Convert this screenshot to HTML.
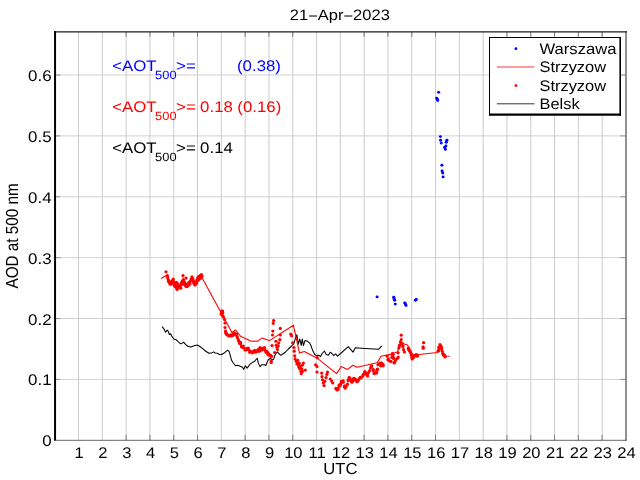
<!DOCTYPE html>
<html lang="en"><head><meta charset="utf-8"><title>21-Apr-2023 AOD at 500 nm</title>
<style>html,body{margin:0;padding:0;background:#fff;overflow:hidden}svg{display:block}text{text-rendering:geometricPrecision;font-family:'Liberation Sans', sans-serif}</style></head><body>
<svg width="640" height="480" viewBox="0 0 640 480">
<rect width="640" height="480" fill="#fff"/>
<g id="grid"><line x1="78.55" y1="32" x2="78.55" y2="440" stroke="#cbcbcb" stroke-width="1"/><line x1="102.35" y1="32" x2="102.35" y2="440" stroke="#cbcbcb" stroke-width="1"/><line x1="126.15" y1="32" x2="126.15" y2="440" stroke="#cbcbcb" stroke-width="1"/><line x1="149.95" y1="32" x2="149.95" y2="440" stroke="#cbcbcb" stroke-width="1"/><line x1="173.75" y1="32" x2="173.75" y2="440" stroke="#cbcbcb" stroke-width="1"/><line x1="197.55" y1="32" x2="197.55" y2="440" stroke="#cbcbcb" stroke-width="1"/><line x1="221.35" y1="32" x2="221.35" y2="440" stroke="#cbcbcb" stroke-width="1"/><line x1="245.15" y1="32" x2="245.15" y2="440" stroke="#cbcbcb" stroke-width="1"/><line x1="268.95" y1="32" x2="268.95" y2="440" stroke="#cbcbcb" stroke-width="1"/><line x1="292.75" y1="32" x2="292.75" y2="440" stroke="#cbcbcb" stroke-width="1"/><line x1="316.55" y1="32" x2="316.55" y2="440" stroke="#cbcbcb" stroke-width="1"/><line x1="340.35" y1="32" x2="340.35" y2="440" stroke="#cbcbcb" stroke-width="1"/><line x1="364.15" y1="32" x2="364.15" y2="440" stroke="#cbcbcb" stroke-width="1"/><line x1="387.95" y1="32" x2="387.95" y2="440" stroke="#cbcbcb" stroke-width="1"/><line x1="411.75" y1="32" x2="411.75" y2="440" stroke="#cbcbcb" stroke-width="1"/><line x1="435.55" y1="32" x2="435.55" y2="440" stroke="#cbcbcb" stroke-width="1"/><line x1="459.35" y1="32" x2="459.35" y2="440" stroke="#cbcbcb" stroke-width="1"/><line x1="483.15" y1="32" x2="483.15" y2="440" stroke="#cbcbcb" stroke-width="1"/><line x1="506.95" y1="32" x2="506.95" y2="440" stroke="#cbcbcb" stroke-width="1"/><line x1="530.75" y1="32" x2="530.75" y2="440" stroke="#cbcbcb" stroke-width="1"/><line x1="554.55" y1="32" x2="554.55" y2="440" stroke="#cbcbcb" stroke-width="1"/><line x1="578.35" y1="32" x2="578.35" y2="440" stroke="#cbcbcb" stroke-width="1"/><line x1="602.15" y1="32" x2="602.15" y2="440" stroke="#cbcbcb" stroke-width="1"/><line x1="55" y1="379.42" x2="626" y2="379.42" stroke="#cfcfcf" stroke-width="0.95"/><line x1="55" y1="318.54" x2="626" y2="318.54" stroke="#cfcfcf" stroke-width="0.95"/><line x1="55" y1="257.66" x2="626" y2="257.66" stroke="#cfcfcf" stroke-width="0.95"/><line x1="55" y1="196.78" x2="626" y2="196.78" stroke="#cfcfcf" stroke-width="0.95"/><line x1="55" y1="135.90" x2="626" y2="135.90" stroke="#cfcfcf" stroke-width="0.95"/><line x1="55" y1="75.02" x2="626" y2="75.02" stroke="#cfcfcf" stroke-width="0.95"/></g>
<g id="ticks"><path d="M126.15 440.3V434.9M126.15 32V36.8" stroke="#7f7f7f" stroke-width="1" fill="none"/><path d="M149.95 440.3V434.9M149.95 32V36.8" stroke="#7f7f7f" stroke-width="1" fill="none"/><path d="M173.75 440.3V434.9M173.75 32V36.8" stroke="#7f7f7f" stroke-width="1" fill="none"/><path d="M197.55 440.3V434.9M197.55 32V36.8" stroke="#7f7f7f" stroke-width="1" fill="none"/><path d="M245.15 440.3V434.9M245.15 32V36.8" stroke="#7f7f7f" stroke-width="1" fill="none"/><path d="M268.95 440.3V434.9M268.95 32V36.8" stroke="#7f7f7f" stroke-width="1" fill="none"/><path d="M292.75 440.3V434.9M292.75 32V36.8" stroke="#7f7f7f" stroke-width="1" fill="none"/><path d="M364.15 440.3V434.9M364.15 32V36.8" stroke="#7f7f7f" stroke-width="1" fill="none"/><path d="M387.95 440.3V434.9M387.95 32V36.8" stroke="#7f7f7f" stroke-width="1" fill="none"/><path d="M411.75 440.3V434.9M411.75 32V36.8" stroke="#7f7f7f" stroke-width="1" fill="none"/><path d="M435.55 440.3V434.9M435.55 32V36.8" stroke="#7f7f7f" stroke-width="1" fill="none"/><path d="M506.95 440.3V434.9M506.95 32V36.8" stroke="#7f7f7f" stroke-width="1" fill="none"/><path d="M530.75 440.3V434.9M530.75 32V36.8" stroke="#7f7f7f" stroke-width="1" fill="none"/><path d="M554.55 440.3V434.9M554.55 32V36.8" stroke="#7f7f7f" stroke-width="1" fill="none"/><path d="M578.35 440.3V434.9M578.35 32V36.8" stroke="#7f7f7f" stroke-width="1" fill="none"/><path d="M602.15 440.3V434.9M602.15 32V36.8" stroke="#7f7f7f" stroke-width="1" fill="none"/><path d="M56 379.42H60.3M625 379.42H620.3" stroke="#7f7f7f" stroke-width="0.8" fill="none"/><path d="M56 318.54H60.3M625 318.54H620.3" stroke="#7f7f7f" stroke-width="0.8" fill="none"/><path d="M56 257.66H60.3M625 257.66H620.3" stroke="#7f7f7f" stroke-width="0.8" fill="none"/><path d="M56 196.78H60.3M625 196.78H620.3" stroke="#7f7f7f" stroke-width="0.8" fill="none"/><path d="M56 135.90H60.3M625 135.90H620.3" stroke="#7f7f7f" stroke-width="0.8" fill="none"/><path d="M56 75.02H60.3M625 75.02H620.3" stroke="#7f7f7f" stroke-width="0.8" fill="none"/></g>
<polyline points="162.00,326.70 163.60,328.30 164.70,330.60 165.60,332.20 167.20,330.20 168.30,331.40 169.40,334.50 170.60,333.75 172.20,336.90 173.75,338.90 176.10,339.70 178.40,341.90 180.80,343.90 182.30,343.10 183.60,342.20 185.50,344.40 187.80,346.25 190.90,347.00 194.10,345.80 197.20,345.00 199.50,346.25 202.70,348.60 205.80,351.25 208.90,353.30 211.25,353.10 213.60,351.90 215.20,353.00 217.50,353.30 219.10,354.40 221.40,354.40 223.75,353.30 226.10,351.40 227.70,350.20 229.20,351.70 230.50,356.40 231.60,360.30 233.10,362.70 235.50,365.80 237.80,365.30 240.20,366.25 242.50,367.30 243.75,369.40 245.30,365.80 247.20,368.10 249.50,364.70 252.50,362.30 254.40,361.60 255.60,360.00 257.20,358.40 258.40,363.10 260.00,366.60 261.90,364.70 264.20,364.70 265.80,365.50 268.10,360.00 270.50,358.10 272.00,360.00 273.60,359.20 275.20,354.50 277.50,351.90 279.00,353.75 280.90,355.30 283.00,353.75 285.30,352.20 288.40,349.00 291.60,346.00 293.90,343.60 295.00,339.70 296.90,334.80 297.60,339.50 298.30,344.20 299.80,339.00 301.20,345.40 302.30,339.00 303.40,345.60 305.00,340.60 307.20,341.10 309.50,342.80 311.10,346.00 312.70,350.60 314.70,354.50 316.60,355.60 318.90,355.30 320.50,356.60 322.00,353.75 324.40,351.00 326.25,354.50 328.30,355.30 330.30,352.20 332.20,353.75 333.75,355.60 335.60,353.75 337.50,356.10 340.00,354.00 348.30,346.70 353.00,352.20 355.30,347.80 365.00,348.50 378.60,349.30 381.70,345.80" fill="none" stroke="#000" stroke-width="1.05" stroke-linejoin="round"/>
<polyline points="161.00,278.40 166.25,275.60 168.50,279.50 170.00,283.00 173.00,281.00 176.90,287.50 180.00,286.00 183.00,280.50 187.00,284.00 190.00,283.00 192.00,279.00 195.00,283.50 198.00,279.00 201.90,277.50 221.25,313.00 222.50,315.00 231.90,332.50 235.60,330.00 240.60,336.25 251.25,341.25 257.50,341.10 261.90,338.10 269.40,340.60 293.40,325.20 299.50,353.10 304.30,351.60 317.80,358.60 336.60,373.60 341.25,366.60 347.50,369.40 353.00,365.30 356.90,367.30 377.20,362.80 381.00,356.20 390.30,354.40 397.30,352.00 400.50,342.70 407.50,345.00 413.00,355.20 416.90,354.70 437.20,352.50 440.60,345.80 444.20,356.00 449.70,356.25" fill="none" stroke="#f00" stroke-width="1.1" stroke-linejoin="round"/>
<g fill="#f00"><circle cx="166.00" cy="271.80" r="1.6"/><circle cx="167.40" cy="275.70" r="1.6"/><circle cx="167.80" cy="277.70" r="1.6"/><circle cx="168.20" cy="279.60" r="1.6"/><circle cx="168.50" cy="281.60" r="1.6"/><circle cx="169.70" cy="283.50" r="1.6"/><circle cx="170.50" cy="284.30" r="1.6"/><circle cx="171.30" cy="282.40" r="1.6"/><circle cx="172.50" cy="280.80" r="1.6"/><circle cx="173.20" cy="279.20" r="1.6"/><circle cx="173.60" cy="281.60" r="1.6"/><circle cx="174.40" cy="283.50" r="1.6"/><circle cx="175.20" cy="285.10" r="1.6"/><circle cx="176.00" cy="286.70" r="1.6"/><circle cx="176.75" cy="288.20" r="1.6"/><circle cx="177.10" cy="289.40" r="1.6"/><circle cx="176.40" cy="282.40" r="1.6"/><circle cx="177.50" cy="283.50" r="1.6"/><circle cx="178.30" cy="285.10" r="1.6"/><circle cx="178.70" cy="286.70" r="1.6"/><circle cx="179.90" cy="287.40" r="1.6"/><circle cx="180.70" cy="288.20" r="1.6"/><circle cx="180.70" cy="285.10" r="1.6"/><circle cx="181.40" cy="282.75" r="1.6"/><circle cx="182.20" cy="281.20" r="1.6"/><circle cx="183.00" cy="275.70" r="1.6"/><circle cx="183.40" cy="279.60" r="1.6"/><circle cx="184.20" cy="281.60" r="1.6"/><circle cx="185.00" cy="283.50" r="1.6"/><circle cx="185.70" cy="285.90" r="1.6"/><circle cx="186.10" cy="278.10" r="1.6"/><circle cx="186.50" cy="286.70" r="1.6"/><circle cx="187.30" cy="286.30" r="1.6"/><circle cx="188.10" cy="285.50" r="1.6"/><circle cx="188.90" cy="284.30" r="1.6"/><circle cx="189.60" cy="282.75" r="1.6"/><circle cx="190.40" cy="280.80" r="1.6"/><circle cx="191.20" cy="278.80" r="1.6"/><circle cx="192.00" cy="276.90" r="1.6"/><circle cx="192.80" cy="278.50" r="1.6"/><circle cx="193.20" cy="280.40" r="1.6"/><circle cx="193.50" cy="282.40" r="1.6"/><circle cx="194.30" cy="283.90" r="1.6"/><circle cx="195.10" cy="285.10" r="1.6"/><circle cx="195.90" cy="283.50" r="1.6"/><circle cx="196.30" cy="281.60" r="1.6"/><circle cx="197.10" cy="279.60" r="1.6"/><circle cx="197.80" cy="277.70" r="1.6"/><circle cx="198.60" cy="276.50" r="1.6"/><circle cx="199.40" cy="277.70" r="1.6"/><circle cx="200.20" cy="275.70" r="1.6"/><circle cx="201.40" cy="274.50" r="1.6"/><circle cx="200.60" cy="278.10" r="1.6"/><circle cx="169.20" cy="281.00" r="1.6"/><circle cx="170.20" cy="282.30" r="1.6"/><circle cx="172.00" cy="283.30" r="1.6"/><circle cx="174.00" cy="284.90" r="1.6"/><circle cx="175.00" cy="286.60" r="1.6"/><circle cx="177.90" cy="286.90" r="1.6"/><circle cx="179.20" cy="285.60" r="1.6"/><circle cx="181.90" cy="284.60" r="1.6"/><circle cx="183.00" cy="283.00" r="1.6"/><circle cx="184.60" cy="284.60" r="1.6"/><circle cx="187.60" cy="284.20" r="1.6"/><circle cx="189.00" cy="282.30" r="1.6"/><circle cx="190.00" cy="283.90" r="1.6"/><circle cx="191.60" cy="280.60" r="1.6"/><circle cx="194.00" cy="281.60" r="1.6"/><circle cx="196.60" cy="283.30" r="1.6"/><circle cx="198.00" cy="280.60" r="1.6"/><circle cx="199.20" cy="279.20" r="1.6"/><circle cx="201.00" cy="276.60" r="1.6"/><circle cx="202.00" cy="276.20" r="1.6"/><circle cx="222.00" cy="312.00" r="1.6"/><circle cx="221.00" cy="314.00" r="1.6"/><circle cx="222.50" cy="315.50" r="1.6"/><circle cx="223.50" cy="317.00" r="1.6"/><circle cx="224.50" cy="319.50" r="1.6"/><circle cx="225.00" cy="323.00" r="1.6"/><circle cx="225.00" cy="327.50" r="1.6"/><circle cx="225.50" cy="331.00" r="1.6"/><circle cx="226.00" cy="333.50" r="1.6"/><circle cx="227.00" cy="335.00" r="1.6"/><circle cx="229.00" cy="336.00" r="1.6"/><circle cx="231.00" cy="336.00" r="1.6"/><circle cx="233.00" cy="335.50" r="1.6"/><circle cx="235.00" cy="334.50" r="1.6"/><circle cx="236.50" cy="335.50" r="1.6"/><circle cx="237.50" cy="338.00" r="1.6"/><circle cx="238.50" cy="340.00" r="1.6"/><circle cx="239.50" cy="342.00" r="1.6"/><circle cx="240.50" cy="344.00" r="1.6"/><circle cx="241.50" cy="346.00" r="1.6"/><circle cx="243.00" cy="347.50" r="1.6"/><circle cx="245.00" cy="348.50" r="1.6"/><circle cx="247.00" cy="348.50" r="1.6"/><circle cx="248.50" cy="349.50" r="1.6"/><circle cx="250.00" cy="351.00" r="1.6"/><circle cx="252.00" cy="351.70" r="1.6"/><circle cx="254.00" cy="351.70" r="1.6"/><circle cx="256.00" cy="351.20" r="1.6"/><circle cx="258.00" cy="351.20" r="1.6"/><circle cx="260.00" cy="350.00" r="1.6"/><circle cx="260.00" cy="347.50" r="1.6"/><circle cx="262.00" cy="350.00" r="1.6"/><circle cx="264.50" cy="349.50" r="1.6"/><circle cx="264.40" cy="347.50" r="1.6"/><circle cx="266.00" cy="351.00" r="1.6"/><circle cx="267.00" cy="353.00" r="1.6"/><circle cx="268.00" cy="354.50" r="1.6"/><circle cx="269.50" cy="355.50" r="1.6"/><circle cx="271.00" cy="355.50" r="1.6"/><circle cx="271.25" cy="360.80" r="1.6"/><circle cx="273.60" cy="320.60" r="1.6"/><circle cx="273.30" cy="323.30" r="1.6"/><circle cx="272.80" cy="331.10" r="1.6"/><circle cx="272.50" cy="335.00" r="1.6"/><circle cx="272.00" cy="345.60" r="1.6"/><circle cx="274.70" cy="352.50" r="1.6"/><circle cx="275.90" cy="341.25" r="1.6"/><circle cx="277.00" cy="347.50" r="1.6"/><circle cx="278.30" cy="346.00" r="1.6"/><circle cx="278.75" cy="343.10" r="1.6"/><circle cx="279.80" cy="339.70" r="1.6"/><circle cx="280.30" cy="335.00" r="1.6"/><circle cx="280.30" cy="328.40" r="1.6"/><circle cx="276.25" cy="345.20" r="1.6"/><circle cx="277.50" cy="349.50" r="1.6"/><circle cx="290.80" cy="334.20" r="1.6"/><circle cx="291.60" cy="335.80" r="1.6"/><circle cx="292.60" cy="342.80" r="1.6"/><circle cx="293.90" cy="347.50" r="1.6"/><circle cx="294.20" cy="351.20" r="1.6"/><circle cx="294.70" cy="355.80" r="1.6"/><circle cx="295.10" cy="358.90" r="1.6"/><circle cx="296.25" cy="361.20" r="1.6"/><circle cx="297.50" cy="363.20" r="1.6"/><circle cx="298.70" cy="365.50" r="1.6"/><circle cx="299.60" cy="368.50" r="1.6"/><circle cx="300.80" cy="371.25" r="1.6"/><circle cx="301.40" cy="373.60" r="1.6"/><circle cx="302.50" cy="365.00" r="1.6"/><circle cx="303.40" cy="363.10" r="1.6"/><circle cx="305.30" cy="370.00" r="1.6"/><circle cx="315.60" cy="364.80" r="1.6"/><circle cx="317.00" cy="366.50" r="1.6"/><circle cx="317.00" cy="372.00" r="1.6"/><circle cx="317.30" cy="357.70" r="1.6"/><circle cx="321.70" cy="373.10" r="1.6"/><circle cx="322.00" cy="376.70" r="1.6"/><circle cx="322.50" cy="379.80" r="1.6"/><circle cx="323.30" cy="383.00" r="1.6"/><circle cx="324.00" cy="385.60" r="1.6"/><circle cx="324.80" cy="381.40" r="1.6"/><circle cx="326.00" cy="377.50" r="1.6"/><circle cx="326.90" cy="374.40" r="1.6"/><circle cx="327.50" cy="372.00" r="1.6"/><circle cx="330.30" cy="379.00" r="1.6"/><circle cx="331.60" cy="381.00" r="1.6"/><circle cx="332.70" cy="383.00" r="1.6"/><circle cx="335.80" cy="388.40" r="1.6"/><circle cx="336.90" cy="390.00" r="1.6"/><circle cx="338.10" cy="388.10" r="1.6"/><circle cx="339.40" cy="386.10" r="1.6"/><circle cx="340.50" cy="384.20" r="1.6"/><circle cx="341.60" cy="382.50" r="1.6"/><circle cx="343.10" cy="382.20" r="1.6"/><circle cx="344.40" cy="386.90" r="1.6"/><circle cx="345.20" cy="388.10" r="1.6"/><circle cx="346.25" cy="386.60" r="1.6"/><circle cx="347.50" cy="384.20" r="1.6"/><circle cx="348.30" cy="379.80" r="1.6"/><circle cx="349.00" cy="377.50" r="1.6"/><circle cx="350.30" cy="379.00" r="1.6"/><circle cx="351.40" cy="381.40" r="1.6"/><circle cx="352.50" cy="381.00" r="1.6"/><circle cx="353.75" cy="378.30" r="1.6"/><circle cx="355.30" cy="379.00" r="1.6"/><circle cx="356.90" cy="380.60" r="1.6"/><circle cx="358.40" cy="379.80" r="1.6"/><circle cx="360.00" cy="378.30" r="1.6"/><circle cx="361.60" cy="377.20" r="1.6"/><circle cx="363.10" cy="375.60" r="1.6"/><circle cx="364.70" cy="372.80" r="1.6"/><circle cx="365.90" cy="374.00" r="1.6"/><circle cx="367.50" cy="374.70" r="1.6"/><circle cx="368.60" cy="372.50" r="1.6"/><circle cx="369.70" cy="370.50" r="1.6"/><circle cx="370.60" cy="367.80" r="1.6"/><circle cx="371.70" cy="365.80" r="1.6"/><circle cx="373.30" cy="369.70" r="1.6"/><circle cx="374.00" cy="373.60" r="1.6"/><circle cx="375.60" cy="372.80" r="1.6"/><circle cx="377.20" cy="369.40" r="1.6"/><circle cx="378.00" cy="364.70" r="1.6"/><circle cx="379.50" cy="363.40" r="1.6"/><circle cx="380.60" cy="365.80" r="1.6"/><circle cx="381.90" cy="364.20" r="1.6"/><circle cx="383.10" cy="365.80" r="1.6"/><circle cx="376.60" cy="373.00" r="1.6"/><circle cx="377.50" cy="369.20" r="1.6"/><circle cx="381.25" cy="363.00" r="1.6"/><circle cx="387.20" cy="356.25" r="1.6"/><circle cx="388.40" cy="359.00" r="1.6"/><circle cx="389.50" cy="361.00" r="1.6"/><circle cx="391.00" cy="361.40" r="1.6"/><circle cx="391.90" cy="357.50" r="1.6"/><circle cx="393.10" cy="354.40" r="1.6"/><circle cx="393.40" cy="357.50" r="1.6"/><circle cx="394.20" cy="363.00" r="1.6"/><circle cx="395.30" cy="361.00" r="1.6"/><circle cx="396.60" cy="359.00" r="1.6"/><circle cx="397.80" cy="358.00" r="1.6"/><circle cx="398.10" cy="352.80" r="1.6"/><circle cx="398.90" cy="348.10" r="1.6"/><circle cx="399.70" cy="345.00" r="1.6"/><circle cx="400.50" cy="341.90" r="1.6"/><circle cx="401.25" cy="339.50" r="1.6"/><circle cx="401.25" cy="335.20" r="1.6"/><circle cx="402.00" cy="343.40" r="1.6"/><circle cx="402.80" cy="346.60" r="1.6"/><circle cx="403.60" cy="349.70" r="1.6"/><circle cx="404.40" cy="352.00" r="1.6"/><circle cx="408.30" cy="348.10" r="1.6"/><circle cx="409.00" cy="349.70" r="1.6"/><circle cx="409.80" cy="351.25" r="1.6"/><circle cx="410.60" cy="352.80" r="1.6"/><circle cx="411.40" cy="355.20" r="1.6"/><circle cx="411.90" cy="357.50" r="1.6"/><circle cx="412.20" cy="359.00" r="1.6"/><circle cx="413.40" cy="357.50" r="1.6"/><circle cx="414.50" cy="356.25" r="1.6"/><circle cx="416.10" cy="355.60" r="1.6"/><circle cx="417.30" cy="355.20" r="1.6"/><circle cx="423.60" cy="342.70" r="1.6"/><circle cx="423.10" cy="346.90" r="1.6"/><circle cx="438.00" cy="351.25" r="1.6"/><circle cx="438.75" cy="349.70" r="1.6"/><circle cx="439.50" cy="348.10" r="1.6"/><circle cx="440.30" cy="345.80" r="1.6"/><circle cx="441.10" cy="346.60" r="1.6"/><circle cx="441.60" cy="348.90" r="1.6"/><circle cx="442.20" cy="351.25" r="1.6"/><circle cx="442.70" cy="353.60" r="1.6"/><circle cx="443.75" cy="355.20" r="1.6"/><circle cx="445.00" cy="356.00" r="1.6"/><circle cx="225.79" cy="332.28" r="1.6"/><circle cx="226.46" cy="333.81" r="1.6"/><circle cx="228.47" cy="335.07" r="1.6"/><circle cx="230.92" cy="334.91" r="1.6"/><circle cx="233.06" cy="333.94" r="1.6"/><circle cx="234.55" cy="333.10" r="1.6"/><circle cx="236.60" cy="334.14" r="1.6"/><circle cx="237.38" cy="337.06" r="1.6"/><circle cx="238.93" cy="341.24" r="1.6"/><circle cx="239.55" cy="343.35" r="1.6"/><circle cx="240.72" cy="342.63" r="1.6"/><circle cx="241.67" cy="346.98" r="1.6"/><circle cx="243.25" cy="346.10" r="1.6"/><circle cx="245.00" cy="350.02" r="1.6"/><circle cx="246.96" cy="349.69" r="1.6"/><circle cx="248.20" cy="348.04" r="1.6"/><circle cx="249.69" cy="352.32" r="1.6"/><circle cx="252.45" cy="352.83" r="1.6"/><circle cx="254.58" cy="350.39" r="1.6"/><circle cx="255.60" cy="352.22" r="1.6"/><circle cx="257.99" cy="349.53" r="1.6"/><circle cx="259.49" cy="351.17" r="1.6"/><circle cx="259.82" cy="348.86" r="1.6"/><circle cx="261.95" cy="348.34" r="1.6"/><circle cx="264.47" cy="348.55" r="1.6"/><circle cx="264.64" cy="348.63" r="1.6"/><circle cx="265.86" cy="351.92" r="1.6"/><circle cx="266.95" cy="351.61" r="1.6"/><circle cx="267.99" cy="352.99" r="1.6"/><circle cx="269.06" cy="354.28" r="1.6"/><circle cx="271.50" cy="356.46" r="1.6"/><circle cx="271.19" cy="362.41" r="1.6"/><circle cx="338.00" cy="389.38" r="1.6"/><circle cx="339.08" cy="385.18" r="1.6"/><circle cx="340.18" cy="385.58" r="1.6"/><circle cx="341.34" cy="381.41" r="1.6"/><circle cx="343.18" cy="380.92" r="1.6"/><circle cx="344.54" cy="385.78" r="1.6"/><circle cx="348.18" cy="380.67" r="1.6"/><circle cx="349.78" cy="377.89" r="1.6"/><circle cx="351.52" cy="380.60" r="1.6"/><circle cx="352.02" cy="382.23" r="1.6"/><circle cx="353.40" cy="379.20" r="1.6"/><circle cx="355.12" cy="380.13" r="1.6"/><circle cx="356.89" cy="381.74" r="1.6"/><circle cx="357.97" cy="381.12" r="1.6"/><circle cx="360.23" cy="377.36" r="1.6"/><circle cx="363.33" cy="374.27" r="1.6"/><circle cx="364.87" cy="371.51" r="1.6"/><circle cx="365.74" cy="372.95" r="1.6"/><circle cx="367.55" cy="375.95" r="1.6"/><circle cx="371.39" cy="367.12" r="1.6"/><circle cx="373.32" cy="371.01" r="1.6"/><circle cx="376.83" cy="370.51" r="1.6"/><circle cx="381.56" cy="363.07" r="1.6"/><circle cx="383.08" cy="364.66" r="1.6"/><circle cx="381.44" cy="364.35" r="1.6"/><circle cx="387.89" cy="359.66" r="1.6"/><circle cx="392.29" cy="356.39" r="1.6"/><circle cx="392.50" cy="353.39" r="1.6"/><circle cx="393.65" cy="358.56" r="1.6"/><circle cx="394.28" cy="362.39" r="1.6"/><circle cx="398.20" cy="357.10" r="1.6"/><circle cx="399.30" cy="345.95" r="1.6"/><circle cx="402.87" cy="345.96" r="1.6"/><circle cx="408.80" cy="349.28" r="1.6"/><circle cx="409.24" cy="350.04" r="1.6"/><circle cx="411.84" cy="354.48" r="1.6"/><circle cx="412.26" cy="356.67" r="1.6"/><circle cx="412.29" cy="357.78" r="1.6"/><circle cx="412.91" cy="356.36" r="1.6"/><circle cx="414.60" cy="355.34" r="1.6"/><circle cx="416.11" cy="354.52" r="1.6"/><circle cx="417.35" cy="356.16" r="1.6"/><circle cx="423.14" cy="348.15" r="1.6"/><circle cx="438.67" cy="350.39" r="1.6"/><circle cx="438.82" cy="347.20" r="1.6"/><circle cx="439.98" cy="344.57" r="1.6"/><circle cx="441.45" cy="347.30" r="1.6"/><circle cx="443.42" cy="354.82" r="1.6"/><circle cx="444.02" cy="354.49" r="1.6"/><circle cx="445.02" cy="356.89" r="1.6"/><circle cx="297.80" cy="360.30" r="1.6"/><circle cx="299.30" cy="363.30" r="1.6"/><circle cx="300.60" cy="366.30" r="1.6"/><circle cx="301.80" cy="368.80" r="1.6"/><circle cx="302.60" cy="371.30" r="1.6"/><circle cx="298.80" cy="366.90" r="1.6"/><circle cx="297.00" cy="363.90" r="1.6"/><circle cx="221.60" cy="311.20" r="1.6"/><circle cx="222.80" cy="312.80" r="1.6"/><circle cx="221.80" cy="313.20" r="1.6"/><circle cx="222.60" cy="311.00" r="1.6"/></g>
<g fill="#00f"><ellipse cx="377.10" cy="296.90" rx="1.55" ry="1.4"/><ellipse cx="393.75" cy="297.25" rx="1.55" ry="1.4"/><ellipse cx="394.10" cy="298.75" rx="1.55" ry="1.4"/><ellipse cx="394.60" cy="300.25" rx="1.55" ry="1.4"/><ellipse cx="395.25" cy="304.10" rx="1.55" ry="1.4"/><ellipse cx="404.75" cy="302.90" rx="1.55" ry="1.4"/><ellipse cx="405.40" cy="304.00" rx="1.55" ry="1.4"/><ellipse cx="406.00" cy="305.40" rx="1.55" ry="1.4"/><ellipse cx="415.40" cy="300.25" rx="1.55" ry="1.4"/><ellipse cx="416.25" cy="299.40" rx="1.55" ry="1.4"/><ellipse cx="438.60" cy="92.30" rx="1.55" ry="1.4"/><ellipse cx="436.60" cy="98.10" rx="1.55" ry="1.4"/><ellipse cx="437.40" cy="99.25" rx="1.55" ry="1.4"/><ellipse cx="437.70" cy="100.50" rx="1.55" ry="1.4"/><ellipse cx="440.40" cy="136.60" rx="1.55" ry="1.4"/><ellipse cx="440.60" cy="140.25" rx="1.55" ry="1.4"/><ellipse cx="441.25" cy="143.10" rx="1.55" ry="1.4"/><ellipse cx="446.90" cy="140.25" rx="1.55" ry="1.4"/><ellipse cx="446.25" cy="142.25" rx="1.55" ry="1.4"/><ellipse cx="445.90" cy="146.00" rx="1.55" ry="1.4"/><ellipse cx="444.60" cy="147.50" rx="1.55" ry="1.4"/><ellipse cx="445.40" cy="149.40" rx="1.55" ry="1.4"/><ellipse cx="441.90" cy="165.25" rx="1.55" ry="1.4"/><ellipse cx="442.10" cy="171.00" rx="1.55" ry="1.4"/><ellipse cx="442.75" cy="173.10" rx="1.55" ry="1.4"/><ellipse cx="443.10" cy="176.90" rx="1.55" ry="1.4"/></g>
<line x1="54" y1="440.3" x2="626.5" y2="440.3" stroke="#000" stroke-width="0.6"/>
<line x1="626" y1="31.2" x2="626" y2="440.6" stroke="#000" stroke-width="1" opacity="0.86"/>
<line x1="54" y1="31.8" x2="627" y2="31.8" stroke="#1a1a1a" stroke-width="1.3"/>
<line x1="55.05" y1="31.1" x2="55.05" y2="440.6" stroke="#000" stroke-width="2"/>
<text transform="translate(79.15 458.00) scale(1.075 1)" font-size="15.4" text-anchor="middle" fill="#000">1</text>
<text transform="translate(102.95 458.00) scale(1.075 1)" font-size="15.4" text-anchor="middle" fill="#000">2</text>
<text transform="translate(126.75 458.00) scale(1.075 1)" font-size="15.4" text-anchor="middle" fill="#000">3</text>
<text transform="translate(150.55 458.00) scale(1.075 1)" font-size="15.4" text-anchor="middle" fill="#000">4</text>
<text transform="translate(174.35 458.00) scale(1.075 1)" font-size="15.4" text-anchor="middle" fill="#000">5</text>
<text transform="translate(198.15 458.00) scale(1.075 1)" font-size="15.4" text-anchor="middle" fill="#000">6</text>
<text transform="translate(221.95 458.00) scale(1.075 1)" font-size="15.4" text-anchor="middle" fill="#000">7</text>
<text transform="translate(245.75 458.00) scale(1.075 1)" font-size="15.4" text-anchor="middle" fill="#000">8</text>
<text transform="translate(269.55 458.00) scale(1.075 1)" font-size="15.4" text-anchor="middle" fill="#000">9</text>
<text transform="translate(293.35 458.00) scale(1.075 1)" font-size="15.4" text-anchor="middle" fill="#000">10</text>
<text transform="translate(317.15 458.00) scale(1.075 1)" font-size="15.4" text-anchor="middle" fill="#000">11</text>
<text transform="translate(340.95 458.00) scale(1.075 1)" font-size="15.4" text-anchor="middle" fill="#000">12</text>
<text transform="translate(364.75 458.00) scale(1.075 1)" font-size="15.4" text-anchor="middle" fill="#000">13</text>
<text transform="translate(388.55 458.00) scale(1.075 1)" font-size="15.4" text-anchor="middle" fill="#000">14</text>
<text transform="translate(412.35 458.00) scale(1.075 1)" font-size="15.4" text-anchor="middle" fill="#000">15</text>
<text transform="translate(436.15 458.00) scale(1.075 1)" font-size="15.4" text-anchor="middle" fill="#000">16</text>
<text transform="translate(459.95 458.00) scale(1.075 1)" font-size="15.4" text-anchor="middle" fill="#000">17</text>
<text transform="translate(483.75 458.00) scale(1.075 1)" font-size="15.4" text-anchor="middle" fill="#000">18</text>
<text transform="translate(507.55 458.00) scale(1.075 1)" font-size="15.4" text-anchor="middle" fill="#000">19</text>
<text transform="translate(531.35 458.00) scale(1.075 1)" font-size="15.4" text-anchor="middle" fill="#000">20</text>
<text transform="translate(555.15 458.00) scale(1.075 1)" font-size="15.4" text-anchor="middle" fill="#000">21</text>
<text transform="translate(578.95 458.00) scale(1.075 1)" font-size="15.4" text-anchor="middle" fill="#000">22</text>
<text transform="translate(602.75 458.00) scale(1.075 1)" font-size="15.4" text-anchor="middle" fill="#000">23</text>
<text transform="translate(626.55 458.00) scale(1.075 1)" font-size="15.4" text-anchor="middle" fill="#000">24</text>
<text transform="translate(51.60 446.30) scale(1.1 1)" font-size="15.4" text-anchor="end" fill="#000">0</text>
<text transform="translate(51.60 385.42) scale(1.1 1)" font-size="15.4" text-anchor="end" fill="#000">0.1</text>
<text transform="translate(51.60 324.54) scale(1.1 1)" font-size="15.4" text-anchor="end" fill="#000">0.2</text>
<text transform="translate(51.60 263.66) scale(1.1 1)" font-size="15.4" text-anchor="end" fill="#000">0.3</text>
<text transform="translate(51.60 202.78) scale(1.1 1)" font-size="15.4" text-anchor="end" fill="#000">0.4</text>
<text transform="translate(51.60 141.90) scale(1.1 1)" font-size="15.4" text-anchor="end" fill="#000">0.5</text>
<text transform="translate(51.60 81.02) scale(1.1 1)" font-size="15.4" text-anchor="end" fill="#000">0.6</text>
<text transform="translate(340.30 474.20) scale(1.04 1)" font-size="16.0" text-anchor="middle" fill="#000">UTC</text>
<text transform="translate(339.80 19.60) scale(1.1 1)" font-size="15.0" text-anchor="middle" fill="#000">21<tspan dy="1.4">−</tspan><tspan dy="-1.4">Apr</tspan><tspan dy="1.4">−</tspan><tspan dy="-1.4">2023</tspan></text>
<text transform="translate(18.4 235.9) rotate(-90) scale(1 1.147)" font-size="15.25" text-anchor="middle" fill="#000">AOD at 500 nm</text>
<text transform="translate(112.20 70.90) scale(1.1 1)" font-size="15.3" text-anchor="start" fill="#00f">&lt;AOT</text><text transform="translate(155.10 78.90) scale(1.07 1)" font-size="12.0" text-anchor="start" fill="#00f">500</text><text transform="translate(176.10 70.90) scale(1.1 1)" font-size="15.3" text-anchor="start" fill="#00f">&gt;=</text>
<text transform="translate(237.00 70.90) scale(1.1 1)" font-size="15.3" text-anchor="start" fill="#00f">(0.38)</text>
<text transform="translate(112.20 111.90) scale(1.1 1)" font-size="15.3" text-anchor="start" fill="#f00">&lt;AOT</text><text transform="translate(155.10 119.90) scale(1.07 1)" font-size="12.0" text-anchor="start" fill="#f00">500</text><text transform="translate(176.10 111.90) scale(1.1 1)" font-size="15.3" text-anchor="start" fill="#f00">&gt;=</text>
<text transform="translate(200.10 111.90) scale(1.1 1)" font-size="15.3" text-anchor="start" fill="#f00">0.18</text>
<text transform="translate(237.30 111.90) scale(1.1 1)" font-size="15.3" text-anchor="start" fill="#f00">(0.16)</text>
<text transform="translate(112.20 153.20) scale(1.1 1)" font-size="15.3" text-anchor="start" fill="#000">&lt;AOT</text><text transform="translate(155.10 161.20) scale(1.07 1)" font-size="12.0" text-anchor="start" fill="#000">500</text><text transform="translate(176.10 153.20) scale(1.1 1)" font-size="15.3" text-anchor="start" fill="#000">&gt;=</text>
<text transform="translate(200.10 153.20) scale(1.1 1)" font-size="15.3" text-anchor="start" fill="#000">0.14</text>
<rect x="489" y="37" width="132" height="78.6" fill="#fff"/>
<path d="M489.5 37V115.6M489 37.5H621" stroke="#000" stroke-width="1" fill="none"/>
<line x1="620.2" y1="37" x2="620.2" y2="115.7" stroke="#000" stroke-width="1.6"/>
<line x1="489" y1="114.6" x2="621" y2="114.6" stroke="#000" stroke-width="2.1"/>
<ellipse cx="515.9" cy="48.7" rx="1.45" ry="1.4" fill="#00f"/>
<line x1="496.9" y1="67" x2="534.4" y2="67" stroke="#f00" stroke-width="0.8"/>
<ellipse cx="515.9" cy="85.6" rx="1.45" ry="1.4" fill="#f00"/>
<line x1="496.9" y1="103.8" x2="534.4" y2="103.8" stroke="#000" stroke-width="0.8"/>
<text transform="translate(539.50 53.50) scale(1.086 1)" font-size="15.3" text-anchor="start" fill="#000">Warszawa</text>
<text transform="translate(539.50 72.30) scale(1.072 1)" font-size="15.3" text-anchor="start" fill="#000">Strzyzow</text>
<text transform="translate(539.50 91.00) scale(1.072 1)" font-size="15.3" text-anchor="start" fill="#000">Strzyzow</text>
<text transform="translate(539.50 109.30) scale(1.072 1)" font-size="15.3" text-anchor="start" fill="#000">Belsk</text>
</svg></body></html>
